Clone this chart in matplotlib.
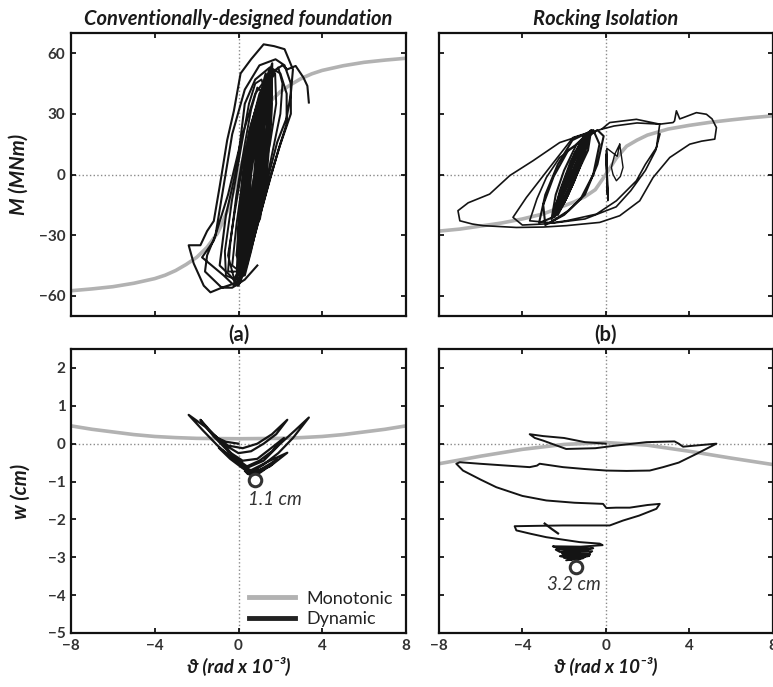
import matplotlib
matplotlib.use("Agg")
import matplotlib.pyplot as plt
from matplotlib.lines import Line2D

plt.rcParams['font.family'] = ['Lato', 'DejaVu Sans']

# ---------------- data ----------------
xticks = [-8, -4, 0, 4, 8]
yticks_M = [-60, -30, 0, 30, 60]
yticks_w = [-5, -4, -3, -2, -1, 0, 1, 2]

# (a) moment - rotation, monotonic
th_mono_a = [-8, -7, -6, -5, -4, -3.5, -3, -2.5, -2, -1.5, -1, -0.75, -0.5, 0, 0.5, 0.75, 1, 1.5, 2, 2.5, 3, 3.5, 4, 5, 6, 7, 8]
M_mono_a = [-57.5, -56.6, -55.5, -53.8, -51.5, -49.8, -47.5, -44.5, -41, -36, -29, -23.5, -17, 0, 17, 23.5, 29, 36, 41,
            44.5, 47.5, 49.8, 51.5, 53.8, 55.5, 56.6, 57.5]

# (a) dynamic, outer cycles
th_dyn_a_outer = [0.9, 0.3, -0.3, -0.8, -1.34, -1.66, -2.14, -2.38, -1.82, -1.5, -1.18, -0.9, -0.54, -0.22, 0.1, 0.6, 1.2, 1.7, 2.2, 2.6,
                  2.5, 2.3, 1.85, 1.45, 0.9, 0.1, -0.22, -0.8, -1.6, -1.5, -1.1, -0.62, -0.3, 0.3, 1.0, 1.77, 2.2, 2.5, 2.5,
                  2.0, 1.5, 0.9, 0.4, 0.0, -0.4, -0.9, -0.6, -0.05, 0.3, 0.8, 1.5, 2.0, 2.3, 2.3, 1.9, 1.3, 0.7, 0.3,
                  -0.2, -0.7, -1.74, -1.18, -0.5, 0.2, 0.8, 1.5, 2.1, 2.33, 2.73, 3.1, 3.29, 3.36]
M_dyn_a_outer = [-45, -52, -56, -56, -58.3, -55, -44, -35, -35, -28, -23, -6, 17, 31.5, 50, 57, 64.4, 63.5, 62, 52,
                 40, 28, 16, 0, -22, -44, -54, -56, -48, -40, -30, 0, 20, 42, 54, 57, 54, 45, 30,
                 15, -2, -25, -45, -55, -50, -45, -20, 5, 35, 47, 53, 50, 40, 25, 12, -10, -33, -48,
                 -55, -50, -41, -32.7, -10, 20, 40, 50, 54, 52, 53.7, 48, 43.8, 35.6]

# (a) dynamic, intermediate cycles
th_dyn_a_mid = [0.2, 0.45, 0.9, 1.3, 1.55, 1.5, 1.2, 0.8, 0.4, 0.1,
                0.0, 0.4, 0.9, 1.4, 1.75, 1.8, 1.5, 1.0, 0.5, 0.2,
                -0.1, 0.15, 0.6, 1.1, 1.5, 1.9, 2.1, 2.0, 1.6, 1.1, 0.6, 0.3,
                -0.3, -0.1, 0.3, 0.7, 1.0, 1.3, 1.35, 1.1, 0.7, 0.3, 0.0,
                -0.5, -0.4, -0.1, 0.3, 0.6, 0.9, 1.2, 1.15, 0.9, 0.5, 0.2, -0.1,
                -0.6, -0.65, -0.3, 0.1, 0.5, 0.8, 1.1, 1.3, 1.2, 0.9, 0.5, 0.2, -0.2,
                -0.5, -0.2, 0.2, 0.6, 1.0, 1.4, 1.6, 1.5, 1.2, 0.8, 0.4, 0.1,
                0.1, 0.5, 0.95, 1.35, 1.6, 1.4, 1.0, 0.6, 0.25, 0.0]
M_dyn_a_mid = [-30, -5, 20, 35, 42, 30, 10, -15, -38, -45,
               -30, 0, 25, 45, 50, 35, 15, -10, -35, -47,
               -40, -15, 15, 35, 48, 53, 45, 30, 10, -15, -38, -50,
               -45, -25, 5, 28, 40, 45, 32, 15, -8, -30, -48,
               -48, -35, -10, 15, 32, 43, 40, 25, 5, -20, -40, -52,
               -50, -38, -12, 12, 35, 45, 47, 40, 22, 0, -25, -42, -52,
               -40, -20, 5, 25, 38, 42, 35, 20, 0, -22, -40, -46,
               -42, -15, 10, 30, 38, 25, 5, -18, -38, -48]

# (a) dynamic, dense steady cycles
th_dyn_a_dense = [0.17, 0.16, 0.35, 0.67, 1.30, 1.23, 1.05, 0.72,
                  0.26, 0.30, 0.50, 0.77, 1.29, 1.17, 1.00, 0.70,
                  0.08, 0.12, 0.35, 0.69, 1.30, 1.17, 0.95, 0.60,
                  0.29, 0.23, 0.40, 0.77, 1.47, 1.41, 1.20, 0.87,
                  0.16, 0.22, 0.40, 0.63, 1.09, 0.95, 0.80, 0.54,
                  0.39, 0.38, 0.55, 0.87, 1.48, 1.35, 1.15, 0.86,
                  -0.06, -0.03, 0.20, 0.50, 1.11, 1.06, 0.90, 0.53,
                  0.42, 0.30, 0.45, 0.84, 1.61, 1.56, 1.35, 1.02,
                  0.32, 0.39, 0.55, 0.75, 1.13, 0.99, 0.85, 0.63,
                  -0.05, 0.03, 0.25, 0.51, 1.02, 0.91, 0.75, 0.43,
                  0.53, 0.46, 0.60, 0.95, 1.60, 1.51, 1.30, 1.02,
                  0.20, 0.08, 0.25, 0.61, 1.38, 1.41, 1.25, 0.88, 0.20]
M_dyn_a_dense = [-48, -24, 0, 22.5, 45, 22.5, 0, -24,
                 -45, -22.5, 0, 20, 40, 20, 0, -22.5,
                 -52, -26, 0, 25, 50, 25, 0, -26,
                 -46, -23, 0, 26, 52, 26, 0, -23,
                 -40, -20, 0, 17.5, 35, 17.5, 0, -20,
                 -42, -21, 0, 24, 48, 24, 0, -21,
                 -55, -27.5, 0, 21, 42, 21, 0, -27.5,
                 -44, -22, 0, 27.5, 55, 27.5, 0, -22,
                 -35, -17.5, 0, 15, 30, 15, 0, -17.5,
                 -50, -25, 0, 19, 38, 19, 0, -25,
                 -38, -19, 0, 25, 50, 25, 0, -19,
                 -50, -25, 0, 24, 48, 24, 0, -25, -50]

# (b) moment - rotation, monotonic
th_mono_b = [-8, -7, -6, -5, -4, -3, -2, -1.5, -1, -0.5, 0, 0.5, 1, 1.5, 2, 3, 4, 5, 6, 7, 8]
M_mono_b = [-28, -27, -25.5, -24, -22, -19.5, -15.5, -13.5, -11, -7.5, 0, 8, 14, 17, 19.5, 22.5, 24.3, 25.8, 27, 28.1, 29]

# (b) dynamic, outer cycles
th_dyn_b_outer = [-0.2, -0.77, -2.21, -3.49, -4.6, -5.57, -6.6, -7.09, -7.0, -6.4, -5.89, -4.29, -3.0, -1.89, -0.29, 0.67,
                  1.63, 2.27, 3.07, 4.03, 4.6, 5.23, 5.31, 5.1, 4.83, 4.35, 3.71, 3.55, 3.39, 3.3, 3.23, 2.59, 1.47, 0.19, -0.2,
                  0.4, 1.5, 2.59, 2.43, 1.9, 1.47, 0.51, -0.45, -1.89, -3.0, -4.0, -4.45, -3.81, -2.69, -1.57, -0.61,
                  -1.5, -2.21, -2.85, -3.3, -3.65, -2.5, -1.0, 0.5, 1.2, 1.9, 2.4, 2.6]
M_dyn_b_outer = [22.4, 20.7, 15.8, 6.8, -0.5, -9.7, -14, -17.9, -22.9, -24.5, -25.3, -26.2, -26, -25.3, -23.7, -20.4,
                 -13, -1.5, 8.4, 15, 16.5, 17.5, 23.2, 27.5, 29.8, 30.6, 28.1, 27.5, 31.5, 26.5, 25.7, 24.9, 27.3, 25.7, 22.4,
                 24.0, 25.5, 24.9, 13.3, 5, -3.1, -13, -19.6, -22.9, -24.5, -25, -21.2, -11.4, 3.5, 18.3, 21.5,
                 14, 8.4, -1.5, -12, -22.9, -24, -22, -16, -8, 2, 12, 20]

# (b) dynamic, dense inner cycles
th_dyn_b_inner = [-2.5, -2.2, -1.7, -1.2, -0.8, -0.9, -1.3, -1.8, -2.3,
                  -2.2, -1.8, -1.3, -0.9, -1.05, -1.5, -2.0, -2.45,
                  -2.35, -1.95, -1.5, -1.0, -1.2, -1.6, -2.1,
                  -2.6, -2.4, -2.0, -1.4, -0.7, -0.85, -1.4, -1.9, -2.3,
                  -2.1, -1.6, -1.1, -0.95, -1.3, -1.75, -2.25,
                  -2.45, -2.0, -1.55, -1.05, -1.15, -1.55, -2.05, -2.4,
                  -2.3, -1.9, -1.45, -0.95, -1.1, -1.45, -1.95, -2.35,
                  -2.5, -2.05, -1.6, -1.1, -0.85, -1.25, -1.7, -2.2, -2.5,
                  -3.2, -2.9, -2.3, -1.6, -0.6, -0.3, -0.6, -1.2, -2.0, -2.9,
                  -3.0, -2.5, -1.8, -0.4, -0.1, -0.4, -1.0, -1.8, -2.7]
M_dyn_b_inner = [-20, -8, 6, 16, 21, 14, 2, -10, -19,
                 -12, 0, 12, 19, 10, -3, -14, -21,
                 -14, -2, 10, 20, 8, -5, -16,
                 -22, -10, 2, 15, 22, 12, 0, -12, -20,
                 -10, 2, 14, 17, 5, -7, -18,
                 -17, -5, 8, 18, 9, -4, -13, -19,
                 -13, -1, 11, 19, 11, 0, -11, -18,
                 -20, -7, 5, 16, 20, 9, -3, -14, -21,
                 -24, -10, 5, 17, 22, 15, 0, -12, -20, -25,
                 -15, -1, 12, 22, 19, 5, -10, -18, -24]

# (b) small loops right of the origin
th_dyn_b_small = [0.67, 0.83, 0.7, 0.51, 0.35, 0.27, 0.43, 0.67, 0.55, 0.05, 0.1, 0.0, 0.08, 0.03, 0.12, 0.04]
M_dyn_b_small = [15, 3.5, -1, -3.1, 0, 3.5, 10, 15, 9, 13, -13, 10, -10, 12, -12, 0]

# (a) settlement - rotation
th_wmono_a = [-8, -7, -6, -5, -4, -3, -2, 0, 2, 3, 4, 5, 6, 7, 8]
w_mono_a = [0.47, 0.38, 0.31, 0.24, 0.19, 0.16, 0.14, 0.13, 0.14, 0.16, 0.19, 0.24, 0.31, 0.38, 0.47]
th_wdyn_a = [0.0, -0.6, -1.0, -0.5, 0.2, 0.9, 1.6, 2.33,
             1.8, 1.2, 0.6, 0.0, -0.6, -1.2, -1.82,
             -1.2, -0.5, 0.2, 0.9, 1.6, 2.17,
             1.6, 1.0, 0.4, -0.2, -0.9, -1.6, -2.38,
             -1.7, -1.0, -0.3, 0.4, 1.2, 2.0, 2.7, 3.36,
             2.6, 1.9, 1.2, 0.7, 0.2, -0.3, -0.94,
             -0.4, 0.2, 0.73, 1.3, 1.85, 1.2, 0.8, 0.3, 0.6, 1.5, 2.33, 1.5, 0.7,
             0.2, 0.5, 1.0, 1.6, 1.0, 0.6, 0.35, 0.75, 1.2, 0.7, 0.45]
w_dyn_a = [0.0, 0.05, 0.15, -0.05, -0.12, 0.0, 0.25, 0.63,
           0.25, 0.0, -0.2, -0.25, -0.05, 0.25, 0.63,
           0.2, -0.2, -0.45, -0.4, -0.1, 0.15,
           -0.2, -0.45, -0.6, -0.35, 0.1, 0.45, 0.76,
           0.35, -0.05, -0.4, -0.64, -0.45, 0.0, 0.35, 0.69,
           0.15, -0.25, -0.55, -0.73, -0.6, -0.35, -0.11,
           -0.4, -0.65, -0.8, -0.6, -0.42, -0.7, -0.85, -0.72, -0.7, -0.45, -0.24, -0.6, -0.8,
           -0.62, -0.72, -0.7, -0.55, -0.74, -0.82, -0.75, -0.78, -0.68, -0.84, -0.8]
peak_a = (0.8, -0.97)

# (b) settlement - rotation
th_wmono_b = [-8, -6, -4, -2, 0, 2, 4, 6, 8]
w_mono_b = [-0.53, -0.33, -0.15, -0.02, 0.03, -0.04, -0.2, -0.38, -0.55]
th_wdyn_b = [0.0, -1.0, -2.0, -3.0, -3.65, -3.4, -3.0, -1.9, -0.5, 0.5, 1.95, 3.3, 3.5, 3.71, 4.5, 5.31,
             4.35, 3.5, 2.75, 2.11, 1.0, 0.03, -1.0, -2.05, -3.17, -3.3, -3.65, -5.0, -6.05, -7.0, -7.17,
             -6.85, -6.0, -5.25, -4.0, -2.85, -1.5, -0.13, 0.03, 0.5, 1.15, 2.0, 2.59, 2.43, 1.6, 0.83,
             0.19, -1.0, -2.05, -3.3, -4.37, -4.29, -3.6, -2.85, -1.25, -0.29, -0.15,
             -1.2, -2.54, -2.3, -0.6, -0.9, -2.4, -2.2, -0.65, -0.8, -2.1, -2.0, -0.75, -0.9, -2.2,
             -1.9, -1.0, -1.1, -1.8, -1.5, -1.2, -2.1, -1.3, -0.8, -1.6, -2.0, -1.1, -1.7, -1.3, -1.9, -1.2, -1.6]
w_dyn_b = [0.0, 0.04, 0.15, 0.2, 0.25, 0.15, 0.08, -0.14, -0.12, -0.05, 0.04, 0.06, 0.0, -0.08, -0.04, 0.0,
           -0.27, -0.5, -0.62, -0.71, -0.72, -0.71, -0.67, -0.62, -0.53, -0.58, -0.62, -0.57, -0.53, -0.49, -0.53,
           -0.71, -0.95, -1.15, -1.38, -1.5, -1.56, -1.59, -1.7, -1.69, -1.69, -1.62, -1.59, -1.72, -1.9, -2.03,
           -2.16, -2.16, -2.16, -2.17, -2.18, -2.29, -2.38, -2.47, -2.6, -2.64, -2.68,
           -2.72, -2.71, -2.76, -2.76, -2.8, -2.8, -2.86, -2.84, -2.9, -2.9, -2.95, -2.93, -2.98, -2.97,
           -3.0, -2.99, -3.03, -3.02, -3.04, -2.8, -2.86, -2.92, -2.97, -2.93, -3.02, -2.96, -3.06, -2.99, -3.08, -3.04, -3.05]
th_wdyn_b_stub = [-2.93, -2.6, -2.29]
w_wdyn_b_stub = [-2.11, -2.25, -2.37]
peak_b = (-1.45, -3.26)

# ---------------- style ----------------
GRAY = '#b2b2b2'
BLACK = '#141414'
TXT = '#333333'
LAB = '#1a1a1a'

fig = plt.figure(figsize=(7.73, 6.87), dpi=100)
W, H = 773, 687

def add_ax(x0, y0, x1, y1):
    return fig.add_axes([x0 / W, 1 - y1 / H, (x1 - x0) / W, (y1 - y0) / H])

ax_a = add_ax(71, 33, 406, 316)
ax_b = add_ax(439, 33, 772.5, 316)
ax_c = add_ax(71, 349, 406, 633)
ax_d = add_ax(439, 349, 772.5, 633)

def fmt(v):
    return str(v).replace('-', '\u2212')

for ax in (ax_a, ax_b, ax_c, ax_d):
    ax.set_xlim(-8, 8)
    ax.set_xticks(xticks)
    ax.tick_params(direction='in', top=True, right=True, length=3.5, width=1.2,
                   labelsize=11, labelcolor=TXT, pad=4)
    for s in ax.spines.values():
        s.set_linewidth(1.6)
        s.set_color('#111111')
    ax.axvline(0, color='#8a8a8a', ls=':', lw=1.0, zorder=0)
    ax.axhline(0, color='#8a8a8a', ls=':', lw=1.0, zorder=0)

for ax in (ax_a, ax_b):
    ax.set_ylim(-70, 70)
    ax.set_yticks(yticks_M)
    ax.set_xticklabels([])
for ax in (ax_c, ax_d):
    ax.set_ylim(-5, 2.5)
    ax.set_yticks(yticks_w)
    ax.set_xticklabels([fmt(t) for t in xticks], fontweight='bold')
ax_a.set_yticklabels([fmt(t) for t in yticks_M], fontweight='bold')
ax_c.set_yticklabels([fmt(t) for t in yticks_w], fontweight='bold')
ax_b.set_yticklabels([])
ax_d.set_yticklabels([])

lw_mono = 2.6

# (a)
ax_a.plot(th_mono_a, M_mono_a, color=GRAY, lw=lw_mono, zorder=1)
ax_a.plot(th_dyn_a_outer, M_dyn_a_outer, color=BLACK, lw=1.5, zorder=2)
ax_a.plot(th_dyn_a_mid, M_dyn_a_mid, color=BLACK, lw=1.4, zorder=2)
ax_a.plot(th_dyn_a_dense, M_dyn_a_dense, color=BLACK, lw=1.6, zorder=2)
# (b)
ax_b.plot(th_mono_b, M_mono_b, color=GRAY, lw=lw_mono, zorder=1)
ax_b.plot(th_dyn_b_outer, M_dyn_b_outer, color=BLACK, lw=1.2, zorder=2)
ax_b.plot(th_dyn_b_inner, M_dyn_b_inner, color=BLACK, lw=1.5, zorder=2)
ax_b.plot(th_dyn_b_small, M_dyn_b_small, color=BLACK, lw=1.0, zorder=2)
# (c)
ax_c.plot(th_wmono_a, w_mono_a, color=GRAY, lw=lw_mono, zorder=1)
ax_c.plot(th_wdyn_a, w_dyn_a, color=BLACK, lw=1.6, zorder=2)
ax_c.plot([peak_a[0]], [peak_a[1]], 'o', ms=9, mfc='white', mec='#333333', mew=2.2, zorder=3)
ax_c.text(peak_a[0] - 0.35, peak_a[1] - 0.5, '1.1 cm', fontsize=13.5, style='italic', color=TXT,
          ha='left', va='center')
# (d)
ax_d.plot(th_wmono_b, w_mono_b, color=GRAY, lw=lw_mono, zorder=1)
ax_d.plot(th_wdyn_b, w_dyn_b, color=BLACK, lw=1.4, zorder=2)
ax_d.plot(th_wdyn_b_stub, w_wdyn_b_stub, color=BLACK, lw=1.6, zorder=2)
ax_d.plot([peak_b[0]], [peak_b[1]], 'o', ms=9, mfc='white', mec='#333333', mew=2.2, zorder=3)
ax_d.text(peak_b[0] - 0.1, peak_b[1] - 0.45, '3.2 cm', fontsize=13.5, style='italic', color=TXT,
          ha='center', va='center')

# titles and labels
ax_a.set_title('Conventionally-designed foundation', fontsize=14.5, fontweight='bold', style='italic',
               color=LAB, pad=6)
ax_b.set_title('Rocking Isolation', fontsize=14.5, fontweight='bold', style='italic', color=LAB, pad=6)
ax_a.set_xlabel('(a)', fontsize=14.5, fontweight='bold', color=LAB, labelpad=2)
ax_b.set_xlabel('(b)', fontsize=14.5, fontweight='bold', color=LAB, labelpad=2)
ax_a.set_ylabel('M (MNm)', fontsize=14.5, fontweight='bold', style='italic', color=LAB, labelpad=7)
ax_c.set_ylabel('w (cm)', fontsize=14.5, fontweight='bold', style='italic', color=LAB, labelpad=12)
xl = '\u03d1 (rad x 10\u207b\u00b3)'
ax_c.set_xlabel(xl, fontsize=13.5, fontweight='bold', style='italic', color=LAB, labelpad=3)
ax_d.set_xlabel(xl, fontsize=13.5, fontweight='bold', style='italic', color=LAB, labelpad=3)

handles = [Line2D([], [], color=GRAY, lw=3.5), Line2D([], [], color='#222222', lw=3.5)]
ax_c.legend(handles, ['Monotonic', 'Dynamic'], loc='lower left', bbox_to_anchor=(0.53, 0.02),
            frameon=False, fontsize=13, handlelength=2.6, handletextpad=0.6, labelspacing=0.25,
            borderpad=0, borderaxespad=0, labelcolor='#222222')

fig.savefig('out.png', dpi=100)
